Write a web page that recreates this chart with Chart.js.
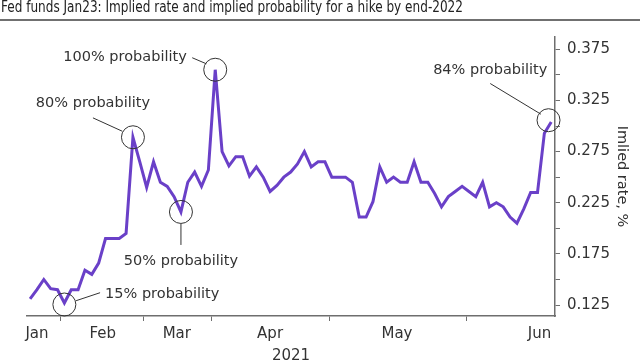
<!DOCTYPE html>
<html>
<head>
<meta charset="utf-8">
<script src="https://cdn.jsdelivr.net/npm/chart.js@4"></script>
<style>
  html, body { margin: 0; padding: 0; background: #fff; }
</style>
</head>
<body>
<canvas id="fedChart" width="640" height="360"></canvas>
<script>
// Fed funds Jan23 implied rate, daily, early Jan to early Jun 2021
const chartTitle = 'Fed funds Jan23: Implied rate and implied probability for a hike by end-2022';

const impliedRate = [
    0.131, 0.140, 0.150, 0.141, 0.140, 0.127, 0.140, 0.140, 0.159, 0.155,
    0.166, 0.190, 0.190, 0.190, 0.195, 0.289, 0.265, 0.240, 0.265, 0.245,
    0.241, 0.231, 0.216, 0.245, 0.255, 0.241, 0.257, 0.355, 0.275, 0.261,
    0.270, 0.270, 0.251, 0.260, 0.250, 0.236, 0.242, 0.250, 0.255, 0.263,
    0.275, 0.260, 0.265, 0.265, 0.250, 0.250, 0.250, 0.245, 0.211, 0.211,
    0.226, 0.260, 0.245, 0.250, 0.245, 0.245, 0.265, 0.245, 0.245, 0.234,
    0.221, 0.231, 0.236, 0.241, 0.236, 0.231, 0.245, 0.221, 0.225, 0.221,
    0.211, 0.205, 0.219, 0.235, 0.235, 0.293, 0.304
];

// x axis: month labels and the small tick marks between them (in day-index units)
const monthLabels = ['Jan', 'Feb', 'Mar', 'Apr', 'May', 'Jun'];
const monthTickAt = [1.0, 10.6, 21.4, 35.0, 53.5, 74.3];
const minorTickAt = [4.4, 16.5, 26.5, 43.6, 63.6];

// y axis
const rateTicks = [0.125, 0.15, 0.175, 0.2, 0.225, 0.25, 0.275, 0.3, 0.325, 0.35, 0.375];
const rateTickLabels = ['0.125', '', '0.175', '', '0.225', '', '0.275', '', '0.325', '', '0.375'];

// callouts
const calloutIdx = [5, 22, 15, 27, 76];
const calloutText = ['15% probability', '50% probability', '80% probability', '100% probability', '84% probability'];

const calloutLayout = [
    { ring: [0, 1.5], lead: [11.7, -2.3, 35.7, -10.3], text: [40.7, -8.5], align: 'left' },
    { ring: [0, 0], lead: [0, 12, 0, 33], text: [0, 49], align: 'center' },
    { ring: [0, 0], lead: [-10.6, -6, -40, -19.4], text: [-40, -34], align: 'center' },
    { ring: [0, 0], lead: [-9, -6, -23, -12], text: [-28.5, -12.6], align: 'right' },
    { ring: [-2.7, -1.7], lead: [-10.3, -7.7, -61, -38.4], text: [-61, -51.7], align: 'center' }
];

const FONT = '"DejaVu Sans", "Noto Sans", sans-serif';
const INK = '#333333';
const AXIS = '#6e6e6e';

const calloutPlugin = {
    id: 'callouts',
    afterDraw(chart) {
        const ctx = chart.ctx;
        const xs = chart.scales.x;
        const ys = chart.scales.y;

        // title + rule
        ctx.save();
        ctx.fillStyle = '#222';
        ctx.font = '15px "Liberation Sans Narrow", "DejaVu Sans Condensed", Roboto, sans-serif';
        ctx.textBaseline = 'alphabetic';
        const w = ctx.measureText(chartTitle).width;
        ctx.translate(1, 12);
        ctx.scale(462 / w, 1);
        ctx.fillText(chartTitle, 0, 0);
        ctx.restore();

        ctx.save();
        ctx.fillStyle = '#707070';
        ctx.fillRect(0, 19, 640, 2);
        ctx.restore();

        // circles, leader lines and labels
        ctx.save();
        ctx.strokeStyle = INK;
        ctx.fillStyle = INK;
        ctx.lineWidth = 1;
        ctx.font = '14.5px ' + FONT;
        ctx.textBaseline = 'middle';
        calloutIdx.forEach(function(idx, k) {
            const L = calloutLayout[k];
            const px = xs.getPixelForValue(idx);
            const py = ys.getPixelForValue(impliedRate[idx]);
            ctx.beginPath();
            ctx.arc(px + L.ring[0], py + L.ring[1], 11.5, 0, Math.PI * 2);
            ctx.stroke();
            ctx.beginPath();
            ctx.moveTo(px + L.lead[0], py + L.lead[1]);
            ctx.lineTo(px + L.lead[2], py + L.lead[3]);
            ctx.stroke();
            ctx.textAlign = L.align;
            ctx.fillText(calloutText[k], px + L.text[0], py + L.text[1]);
        });
        ctx.restore();
    }
};

new Chart(document.getElementById('fedChart'), {
    type: 'line',
    data: {
        datasets: [{
            label: 'Implied rate',
            data: impliedRate.map(function(v, i) { return { x: i, y: v }; }),
            borderColor: '#6a40c8',
            borderWidth: 3,
            pointRadius: 0,
            tension: 0,
            fill: false
        }]
    },
    options: {
        responsive: false,
        animation: false,
        layout: { padding: { top: 37, left: 27, right: 0, bottom: 0 } },
        plugins: {
            legend: { display: false },
            tooltip: { enabled: false }
        },
        scales: {
            x: {
                type: 'linear',
                min: -0.45,
                max: 76.55,
                afterBuildTicks: function(scale) {
                    scale.ticks = monthTickAt.concat(minorTickAt)
                        .sort(function(a, b) { return a - b; })
                        .map(function(v) { return { value: v }; });
                },
                afterFit: function(scale) { scale.height = 44; },
                border: { display: true, color: AXIS, width: 1.5 },
                grid: {
                    drawOnChartArea: false,
                    drawTicks: true,
                    tickLength: 5,
                    tickColor: function(c) {
                        return c.tick && minorTickAt.includes(c.tick.value) ? AXIS : 'rgba(0,0,0,0)';
                    }
                },
                ticks: {
                    autoSkip: false,
                    maxRotation: 0,
                    padding: 4,
                    color: INK,
                    font: { family: FONT, size: 15 },
                    callback: function(value) {
                        const i = monthTickAt.indexOf(value);
                        return i >= 0 ? monthLabels[i] : '';
                    }
                },
                title: {
                    display: true,
                    text: '2021',
                    color: INK,
                    font: { family: FONT, size: 15 },
                    padding: { top: 0, bottom: -5 }
                }
            },
            y: {
                position: 'right',
                min: 0.1143,
                max: 0.387,
                afterBuildTicks: function(scale) {
                    scale.ticks = rateTicks.map(function(v) { return { value: v }; });
                },
                afterFit: function(scale) { scale.width = 85; },
                border: { display: true, color: AXIS, width: 1.5 },
                grid: {
                    drawOnChartArea: false,
                    drawTicks: true,
                    tickLength: 5,
                    tickColor: AXIS
                },
                ticks: {
                    padding: 7,
                    color: INK,
                    font: { family: FONT, size: 15 },
                    callback: function(value, index) {
                        return rateTickLabels[index];
                    }
                },
                title: {
                    display: true,
                    text: 'Imlied rate, %',
                    color: INK,
                    font: { family: FONT, size: 14.5 },
                    padding: { top: 9.3, bottom: 0 }
                }
            }
        }
    },
    plugins: [calloutPlugin]
});
</script>
</body>
</html>
